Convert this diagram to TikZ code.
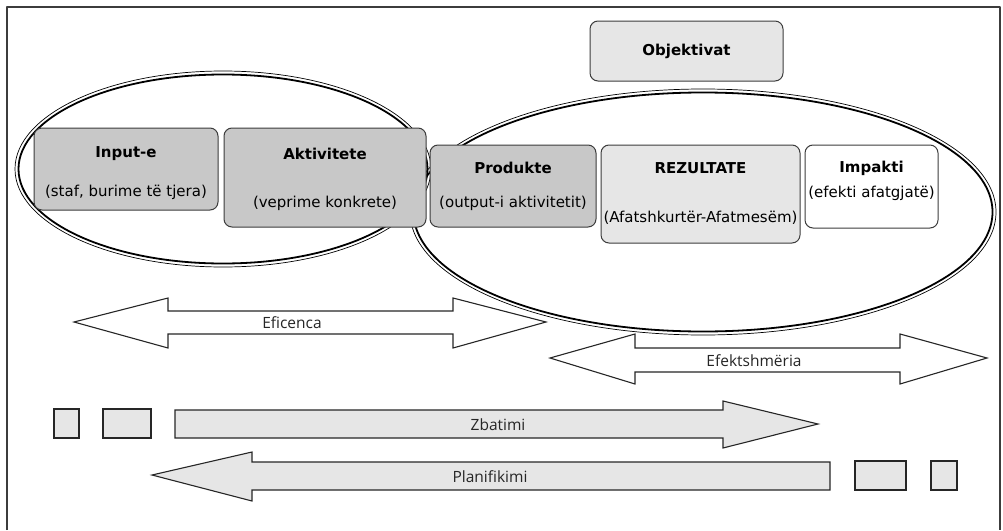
\documentclass[tikz,border=0pt]{standalone}
\usepackage{fontspec}
\setmainfont{DejaVu Sans}
\newfontfamily\arrowfont{Open Sans}
\usetikzlibrary{positioning}
\definecolor{BoxDark}{HTML}{C8C8C8}
\definecolor{BoxLight}{HTML}{E6E6E6}
\definecolor{EdgeGray}{HTML}{3C3C3C}

\begin{document}
\begin{tikzpicture}[x=1pt,y=-1pt,line cap=round,line join=round,
  box/.style={draw=EdgeGray,line width=1pt,rounded corners=8pt,inner sep=0pt},
  ttl/.style={font=\fontsize{15}{17}\selectfont\bfseries,inner sep=0pt},
  sub/.style={font=\fontsize{15}{17}\selectfont,inner sep=0pt},
  blk/.style={draw=black!85,line width=1.1pt,line join=miter},
  lbl/.style={font=\arrowfont\fontsize{15.5}{18}\selectfont,text=black!85,inner sep=0pt}]
  \useasboundingbox (0,0) rectangle (1003,530);
  \draw[EdgeGray,line width=1.8pt,line cap=butt] (7,530)--(7,7)--(1000,7)--(1000,530);
  % double rings
  \draw[line width=0.7pt] (223,169) ellipse [x radius=208pt,y radius=98pt];
  \draw[line width=1.8pt] (223,169) ellipse [x radius=204.5pt,y radius=94.5pt];
  \draw[line width=0.7pt] (703,212) ellipse [x radius=293pt,y radius=123pt];
  \draw[line width=1.8pt] (703,212) ellipse [x radius=289.5pt,y radius=119.5pt];
  % boxes
  \node[box,fill=BoxLight,minimum width=193pt,minimum height=60pt] (obj) at (686.5,51) {};
  \node[box,fill=BoxDark,minimum width=184pt,minimum height=82pt] (inp) at (126,169) {};
  \node[box,fill=BoxDark,minimum width=202pt,minimum height=99pt] (akt) at (325,177.5) {};
  \node[box,fill=BoxDark,minimum width=166pt,minimum height=82pt] (pro) at (513,186) {};
  \node[box,fill=BoxLight,minimum width=199pt,minimum height=98pt] (rez) at (700.5,194) {};
  \node[box,fill=white,minimum width=133pt,minimum height=83pt] (imp) at (871.5,186.5) {};
  \node[ttl] (objT) at (obj) {Objektivat};
  \node[ttl] (inpT) at (126,154) {Input-e};\node[sub] (inpS) at (126,192) {(staf, burime të tjera)};
  \node[ttl] (aktT) at (325,154) {Aktivitete};\node[sub] (aktS) at (325,203) {(veprime konkrete)};
  \node[ttl] (proT) at (513,168) {Produkte};\node[sub] (proS) at (513,203) {(output-i aktivitetit)};
  \node[ttl] (rezT) at (700.5,168) {REZULTATE};\node[sub] (rezS) at (700.5,218) {(Afatshkurtër-Afatmesëm)};
  \node[ttl] (impT) at (871.5,168) {Impakti};\node[sub] (impS) at (871.5,193) {(efekti afatgjatë)};
  % block arrows
  \draw[blk,fill=white] (74,322)--(168,298)--(168,311)--(453,311)--(453,298)--(546,322)--(453,348)--(453,334)--(168,334)--(168,348)--cycle;
  \draw[blk,fill=white] (550,358)--(635,334)--(635,348)--(900,348)--(900,334)--(987,358)--(900,384)--(900,372)--(635,372)--(635,384)--cycle;
  \draw[blk,fill=BoxLight] (175,410)--(723,410)--(723,401)--(818,424)--(723,448)--(723,438)--(175,438)--cycle;
  \draw[blk,fill=BoxLight] (152,475)--(252,452)--(252,462)--(830,462)--(830,490)--(252,490)--(252,501)--cycle;
  \node[lbl] (efi) at (292,323) {Eficenca};
  \node[lbl] (efe) at (754,361) {Efektshmëria};
  \node[lbl] (zba) at (498,425) {Zbatimi};
  \node[lbl] (pla) at (490,477) {Planifikimi};
  % small steps
  \foreach \a/\b in {54/79,103/151}{\draw[blk,fill=BoxLight] (\a,409) rectangle (\b,438);}
  \foreach \a/\b in {855/906,931/957}{\draw[blk,fill=BoxLight] (\a,461) rectangle (\b,490);}
\end{tikzpicture}
\end{document}
